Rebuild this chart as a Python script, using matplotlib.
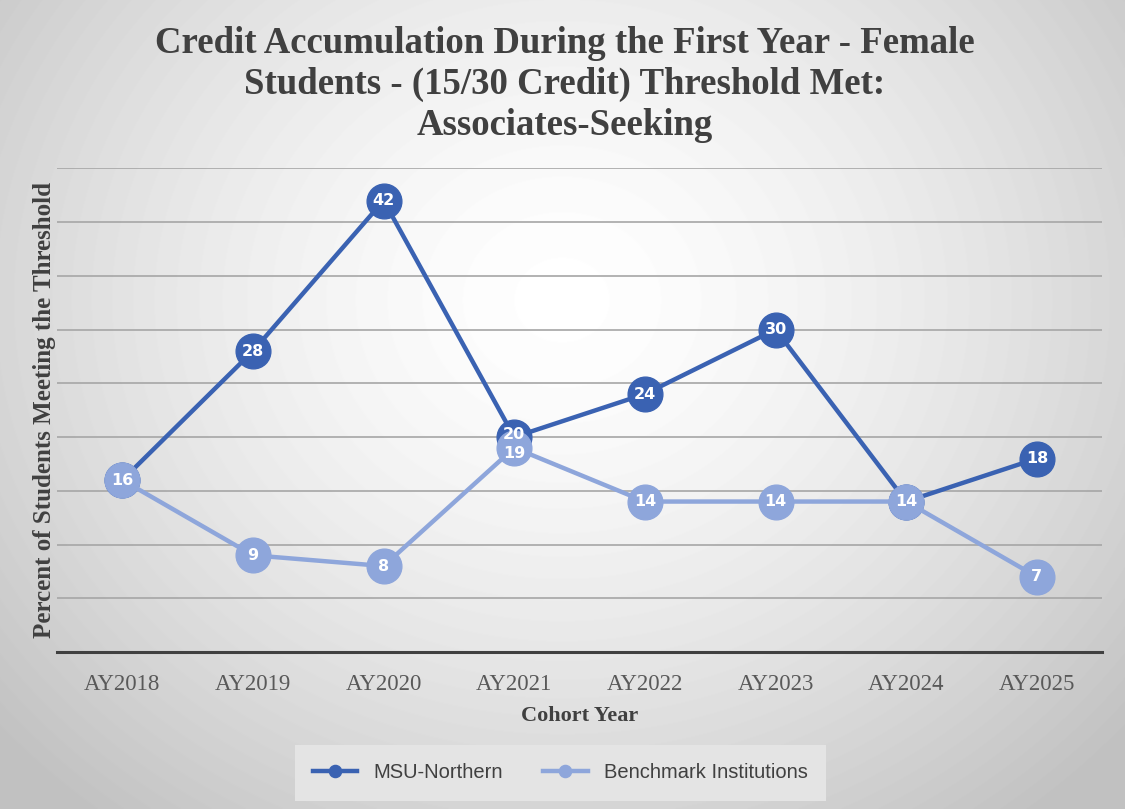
import numpy as np
import matplotlib.pyplot as plt
from matplotlib import font_manager

years = ['AY2018', 'AY2019', 'AY2020', 'AY2021', 'AY2022', 'AY2023', 'AY2024', 'AY2025']
msu_northern = [16, 28, 42, 20, 24, 30, 14, 18]
benchmark = [16, 9, 8, 19, 14, 14, 14, 7]

names = {f.name for f in font_manager.fontManager.ttflist}
narrow = 'Liberation Sans Narrow' if 'Liberation Sans Narrow' in names else 'Liberation Sans'
serif = 'Liberation Serif'

dark = '#3A62B2'
light = '#8EA6DB'

fig = plt.figure(figsize=(11.25, 8.09), dpi=100)

# radial gradient background
bg = fig.add_axes([0, 0, 1, 1])
yy, xx = np.mgrid[0:809, 0:1125]
r = np.sqrt(((xx - 562) / 700.0) ** 2 + ((yy - 300) / 620.0) ** 2)
shade = np.clip(1.0 - 0.22 * r ** 1.5, 0.76, 1.0)
bg.imshow(shade, cmap='gray', vmin=0, vmax=1, aspect='auto', extent=[0, 1, 0, 1])
bg.set_axis_off()

ax = fig.add_axes([0.0507, 0.194, 0.929, 0.598])
ax.patch.set_alpha(0)
x = np.arange(len(years))

ax.plot(x, msu_northern, color=dark, lw=3.2, marker='o', ms=25, zorder=3, label='MSU-Northern')
ax.plot(x, benchmark, color=light, lw=3.2, marker='o', ms=25, zorder=4, label='Benchmark Institutions')

for i, v in enumerate(msu_northern):
    off = 0.25 if abs(v - benchmark[i]) == 1 else 0
    ax.text(i, v + off, str(v), ha='center', va='center', color='white', fontsize=11.5,
            fontweight='bold', family='DejaVu Sans', zorder=6)
for i, v in enumerate(benchmark):
    if v == msu_northern[i]:
        continue
    off = -0.55 if abs(v - msu_northern[i]) == 1 else 0
    ax.text(i, v + off, str(v), ha='center', va='center', color='white', fontsize=11.5,
            fontweight='bold', family='DejaVu Sans', zorder=6)

ax.set_xlim(-0.5, 7.5)
ax.set_ylim(0, 45)
ax.set_yticks(np.arange(5, 50, 5))
ax.yaxis.grid(True, color='#a6a6a6', lw=1.2)
ax.set_yticklabels([])
ax.tick_params(axis='y', length=0)
ax.tick_params(axis='x', length=0, pad=16, labelsize=16.5, labelcolor='#595959')
ax.set_xticks(x)
ax.set_xticklabels(years, family=serif)
for s in ['top', 'right', 'left']:
    ax.spines[s].set_visible(False)
ax.spines['bottom'].set_color('#404040')
ax.spines['bottom'].set_linewidth(2.2)

ax.set_xlabel('Cohort Year', family=serif, fontweight='bold', fontsize=16, color='#404040', labelpad=8)
ax.set_ylabel('Percent of Students Meeting the Threshold', family=serif, fontweight='bold',
              fontsize=18, color='#404040', labelpad=-3)

fig.text(0.502, 0.896,
         'Credit Accumulation During the First Year - Female\nStudents - (15/30 Credit) Threshold Met:\nAssociates-Seeking',
         ha='center', va='center', family=serif, fontweight='bold', fontsize=26.5,
         color='#404040', linespacing=1.22)

leg = fig.legend(loc='center', ncol=2, frameon=True,
                 prop={'family': narrow, 'size': 14.5}, markerscale=0.35, handlelength=2.2,
                 columnspacing=2.0, borderpad=0.6)
leg.set_bbox_to_anchor((0.498, 0.0445), transform=fig.transFigure)
leg.get_frame().set_facecolor('#e4e4e4')
leg.get_frame().set_edgecolor('none')
leg.get_frame().set_alpha(1)
leg.get_frame().set_boxstyle('square')
for t in leg.get_texts():
    t.set_color('#404040')

fig.savefig('out.png', dpi=100)
